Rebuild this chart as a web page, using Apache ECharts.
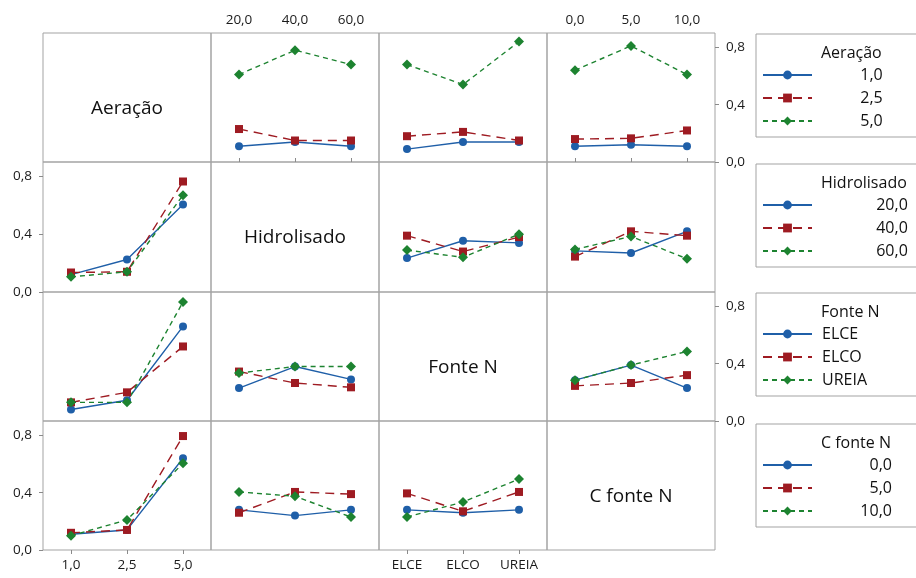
<!DOCTYPE html>
<html><head><meta charset="utf-8">
<script src="https://cdn.jsdelivr.net/npm/echarts@6/dist/echarts.min.js"></script>
<style>html,body{margin:0;padding:0;background:#fff}#c{width:916px;height:578px}</style>
</head><body><div id="c"></div>
<script>
// ---- factor levels / tick labels ----
const factorNames = ['Aeração', 'Hidrolisado', 'Fonte N', 'C fonte N'];
const aerLevels = ['1,0', '2,5', '5,0'];
const hidLevels = ['20,0', '40,0', '60,0'];
const fonteLevels = ['ELCE', 'ELCO', 'UREIA'];
const cfnLevels = ['0,0', '5,0', '10,0'];
const yTickValues = [0, 0.4, 0.8];

// ---- panel data: [trace level 1, level 2, level 3], values at the 3 x-levels ----
// row Aeração (traces 1,0 / 2,5 / 5,0)
const aer_x_hid   = [[0.11, 0.14, 0.11], [0.23, 0.15, 0.15], [0.61, 0.78, 0.68]];
const aer_x_fonte = [[0.09, 0.14, 0.14], [0.18, 0.21, 0.15], [0.68, 0.54, 0.84]];
const aer_x_cfn   = [[0.11, 0.12, 0.11], [0.16, 0.165, 0.22], [0.64, 0.81, 0.61]];
// row Hidrolisado (traces 20 / 40 / 60)
const hid_x_aer   = [[0.12, 0.225, 0.605], [0.135, 0.14, 0.765], [0.105, 0.14, 0.67]];
const hid_x_fonte = [[0.235, 0.355, 0.34], [0.39, 0.28, 0.38], [0.29, 0.24, 0.40]];
const hid_x_cfn   = [[0.285, 0.27, 0.42], [0.245, 0.42, 0.39], [0.295, 0.385, 0.23]];
// row Fonte N (traces ELCE / ELCO / UREIA)
const fonte_x_aer = [[0.08, 0.145, 0.66], [0.13, 0.2, 0.52], [0.13, 0.13, 0.83]];
const fonte_x_hid = [[0.23, 0.38, 0.29], [0.345, 0.265, 0.235], [0.335, 0.38, 0.38]];
const fonte_x_cfn = [[0.285, 0.39, 0.23], [0.245, 0.265, 0.32], [0.285, 0.39, 0.485]];
// row C fonte N (traces 0 / 5 / 10)
const cfn_x_aer   = [[0.11, 0.14, 0.64], [0.12, 0.14, 0.795], [0.10, 0.21, 0.605]];
const cfn_x_hid   = [[0.28, 0.24, 0.28], [0.26, 0.405, 0.39], [0.405, 0.375, 0.23]];
const cfn_x_fonte = [[0.28, 0.26, 0.28], [0.395, 0.27, 0.405], [0.23, 0.335, 0.495]];

const levels = [aerLevels, hidLevels, fonteLevels, cfnLevels];
const panels = [
  [null, aer_x_hid, aer_x_fonte, aer_x_cfn],
  [hid_x_aer, null, hid_x_fonte, hid_x_cfn],
  [fonte_x_aer, fonte_x_hid, null, fonte_x_cfn],
  [cfn_x_aer, cfn_x_hid, cfn_x_fonte, null]
];

// ---- layout / style ----
const FONT = '"Open Sans", "Noto Sans", sans-serif';
const colX = [43, 211, 379, 547, 715];
const rowY = [33, 162, 292, 421, 550];
const colors = ['#1f5fa8', '#9e1b22', '#1d8330'];
const symbols = ['circle', 'rect', 'diamond'];
const symSizes = [8, 8, 10];
const dashes = ['solid', [9, 6], [5, 4]];
const fmt = v => v.toFixed(1).replace('.', ',');

const grid = [], xAxis = [], yAxis = [], series = [], graphic = [], legend = [], title = [];
for (let r = 0; r < 4; r++) {
  for (let c = 0; c < 4; c++) {
    const k = r * 4 + c;
    grid.push({left: colX[c], top: rowY[r], width: colX[c + 1] - colX[c], height: rowY[r + 1] - rowY[r],
      show: true, borderColor: '#a3a3a3', borderWidth: 1, containLabel: false});
    const showTop = r === 0 && (c === 1 || c === 3);
    const showBot = r === 3 && (c === 0 || c === 2);
    const showX = showTop || showBot;
    xAxis.push({type: 'category', gridIndex: k, data: levels[c], boundaryGap: true,
      position: showTop ? 'top' : 'bottom',
      axisLine: {show: false}, splitLine: {show: false},
      axisTick: {show: showX, alignWithLabel: true, length: 4, inside: false, lineStyle: {color: '#8a8a8a'}},
      axisLabel: {show: showX, margin: showTop ? 6 : 8, fontSize: 13.5, fontFamily: FONT, color: '#1a1a1a'}});
    const showLeft = c === 0 && (r === 1 || r === 3);
    const showRight = c === 3 && (r === 0 || r === 2);
    const showY = showLeft || showRight;
    yAxis.push({type: 'value', gridIndex: k, min: 0, max: 0.9, interval: 0.4,
      position: showRight ? 'right' : 'left',
      axisLine: {show: false}, splitLine: {show: false},
      axisTick: {show: showY, length: 4, customValues: yTickValues, lineStyle: {color: '#8a8a8a'}},
      axisLabel: {show: showY, margin: 11, customValues: yTickValues, formatter: fmt,
        fontSize: 13.5, fontFamily: FONT, color: '#1a1a1a'}});
    if (r === c) {
      graphic.push({type: 'text', x: (colX[c] + colX[c + 1]) / 2, y: (rowY[r] + rowY[r + 1]) / 2 + 11,
        style: {text: factorNames[r], font: '19px ' + FONT, fill: '#111', align: 'center', verticalAlign: 'middle'}});
      continue;
    }
    const p = panels[r][c];
    for (let i = 0; i < 3; i++) {
      series.push({type: 'line', name: factorNames[r] + '|' + levels[r][i], xAxisIndex: k, yAxisIndex: k,
        data: p[i], symbol: symbols[i], symbolSize: symSizes[i], showSymbol: true,
        itemStyle: {color: colors[i]}, lineStyle: {color: colors[i], width: 1.4, type: dashes[i]},
        animation: false, silent: true});
    }
  }
}

// ---- legends ----
const cv = document.createElement('canvas').getContext('2d');
cv.font = '16px "Open Sans"';
const legendTops = [34, 164, 293, 424];
const numericLegend = [true, true, false, true];
for (let r = 0; r < 4; r++) {
  const tw = cv.measureText(factorNames[r]).width;
  title.push({text: factorNames[r], left: 821, top: legendTops[r] + 11, padding: 0,
    textStyle: {fontSize: 16, fontWeight: 'normal', fontFamily: FONT, color: '#111', lineHeight: 16}});
  legend.push({
    orient: 'vertical', left: 756, top: legendTops[r],
    padding: [33, 200, 8, 6], itemGap: 7, itemWidth: 49, itemHeight: 11,
    borderColor: '#a3a3a3', borderWidth: 1, selectedMode: false,
    data: levels[r].map(l => factorNames[r] + '|' + l),
    formatter: name => (numericLegend[r] ? '{r|' : '{l|') + name.split('|')[1] + '}',
    textStyle: {fontSize: 16, fontFamily: FONT, color: '#111', width: tw + 5,
      rich: {r: {align: 'right', fontSize: 16, fontFamily: FONT, lineHeight: 16},
             l: {align: 'left', fontSize: 16, fontFamily: FONT, lineHeight: 16, padding: [0, 0, 0, 5]}}}
  });
}

const chart = echarts.init(document.getElementById('c'), null, {renderer: 'canvas'});
chart.setOption({animation: false, backgroundColor: '#fff', grid, xAxis, yAxis, series, legend, title, graphic});
</script></body></html>
